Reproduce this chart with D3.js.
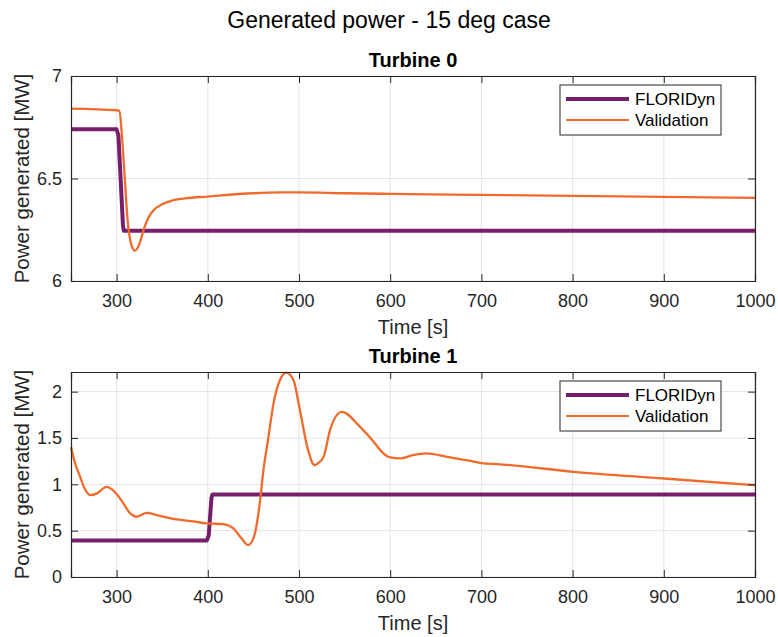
<!DOCTYPE html>
<html>
<head>
<meta charset="utf-8">
<script src="https://cdn.jsdelivr.net/npm/d3@7"></script>
<style>
  body { margin: 0; background: #fff; }
  svg { font-family: "Liberation Sans", Arial, Helvetica, sans-serif; }
</style>
</head>
<body>
<svg id="chart" width="778" height="637"></svg>
<script>
// ---- data ----
const xTicks = [300, 400, 500, 600, 700, 800, 900, 1000];
const seriesNames = ["FLORIDyn", "Validation"];

// Turbine 0
const t0FloriTime = [250, 300, 302, 307, 308, 1000];
const t0FloriPower = [6.74, 6.74, 6.71, 6.27, 6.245, 6.245];
const t0ValTime = [250, 300, 303, 306, 309, 312, 316, 320, 324, 330, 335, 340, 350, 360, 375, 400, 450, 480, 500, 550, 600, 700, 800, 900, 1000];
const t0ValPower = [6.841, 6.833, 6.83, 6.7, 6.5, 6.3, 6.18, 6.148, 6.17, 6.255, 6.31, 6.343, 6.374, 6.391, 6.403, 6.412, 6.428, 6.432, 6.432, 6.428, 6.425, 6.42, 6.415, 6.41, 6.405];
const t0YTicks = [6, 6.5, 7];

// Turbine 1
const t1FloriTime = [250, 399, 401, 404, 405, 1000];
const t1FloriPower = [0.395, 0.395, 0.45, 0.85, 0.89, 0.89];
const t1ValTime = [250, 254, 260, 265, 271, 278, 289, 296, 305, 315, 322, 333, 344, 366, 384, 399, 417, 428, 437, 444, 450, 457, 461, 466, 472, 479, 486, 494, 501, 510, 517, 520, 527, 534, 543, 547, 567, 581, 592, 600, 611, 625, 640, 662, 688, 702, 717, 801, 900, 1000];
const t1ValPower = [1.404, 1.243, 1.081, 0.955, 0.884, 0.90, 0.973, 0.937, 0.83, 0.686, 0.65, 0.693, 0.668, 0.621, 0.60, 0.578, 0.571, 0.524, 0.417, 0.345, 0.417, 0.794, 1.153, 1.476, 1.871, 2.123, 2.206, 2.123, 1.80, 1.369, 1.207, 1.22, 1.296, 1.584, 1.764, 1.782, 1.62, 1.47, 1.34, 1.29, 1.279, 1.315, 1.333, 1.296, 1.253, 1.225, 1.218, 1.135, 1.063, 0.991];
const t1YTicks = [0, 0.5, 1, 1.5, 2];

const panels = [
  { title: "Turbine 0", top: 76, yDomain: [6, 7], yTicks: t0YTicks,
    flori: d3.zip(t0FloriTime, t0FloriPower), val: d3.zip(t0ValTime, t0ValPower) },
  { title: "Turbine 1", top: 372, yDomain: [0, 2.212], yTicks: t1YTicks,
    flori: d3.zip(t1FloriTime, t1FloriPower), val: d3.zip(t1ValTime, t1ValPower) }
];

const colors = { flori: "#771E6C", val: "#F06B2B" };
const axisColor = "#262626";
const left = 71, right = 755, plotH = 205;

const svg = d3.select("#chart");

svg.append("text")
  .attr("x", 389).attr("y", 28)
  .attr("text-anchor", "middle")
  .attr("font-size", 23)
  .attr("fill", "#000")
  .text("Generated power - 15 deg case");

panels.forEach(p => {
  const x = d3.scaleLinear().domain([250, 1000]).range([left, right]);
  const y = d3.scaleLinear().domain(p.yDomain).range([p.top + plotH, p.top]);
  const g = svg.append("g");

  // grid
  g.selectAll(".gx").data(xTicks).join("line")
    .attr("x1", d => x(d)).attr("x2", d => x(d))
    .attr("y1", p.top).attr("y2", p.top + plotH)
    .attr("stroke", "#e3e3e3").attr("stroke-width", 1);
  g.selectAll(".gy").data(p.yTicks).join("line")
    .attr("x1", left).attr("x2", right)
    .attr("y1", d => y(d)).attr("y2", d => y(d))
    .attr("stroke", "#e3e3e3").attr("stroke-width", 1);

  // lines
  const stepLine = d3.line().x(d => x(d[0])).y(d => y(d[1]));
  const smoothLine = d3.line().x(d => x(d[0])).y(d => y(d[1])).curve(d3.curveMonotoneX);
  g.append("path").datum(p.flori)
    .attr("d", stepLine).attr("fill", "none")
    .attr("stroke", colors.flori).attr("stroke-width", 4)
    .attr("stroke-linejoin", "round");
  g.append("path").datum(p.val)
    .attr("d", smoothLine).attr("fill", "none")
    .attr("stroke", colors.val).attr("stroke-width", 2.3)
    .attr("stroke-linejoin", "round");

  // box + ticks on all four sides (inward)
  const bottomAx = d3.axisBottom(x).tickValues(xTicks).tickSize(-7).tickPadding(13).tickFormat(d3.format("d"));
  const topAx = d3.axisTop(x).tickValues(xTicks).tickSize(-7).tickFormat("");
  const leftAx = d3.axisLeft(y).tickValues(p.yTicks).tickSize(-7).tickPadding(9).tickFormat(d => String(d));
  const rightAx = d3.axisRight(y).tickValues(p.yTicks).tickSize(-7).tickFormat("");

  [[bottomAx, `translate(0,${p.top + plotH})`], [topAx, `translate(0,${p.top})`],
   [leftAx, `translate(${left},0)`], [rightAx, `translate(${right},0)`]].forEach(([ax, tr]) => {
    const a = g.append("g").attr("transform", tr).call(ax);
    a.select(".domain").attr("stroke", axisColor).attr("stroke-width", 1.2);
    a.selectAll(".tick line").attr("stroke", axisColor);
    a.selectAll(".tick text").attr("fill", axisColor).attr("font-size", 18)
      .attr("font-family", "Liberation Sans, Arial, sans-serif");
  });

  // labels
  g.append("text")
    .attr("x", (left + right) / 2).attr("y", p.top + plotH + 53)
    .attr("text-anchor", "middle").attr("font-size", 20).attr("fill", axisColor)
    .text("Time [s]");
  g.append("text")
    .attr("transform", `translate(29,${p.top + plotH / 2}) rotate(-90)`)
    .attr("text-anchor", "middle").attr("font-size", 20.5).attr("fill", axisColor)
    .text("Power generated [MW]");
  g.append("text")
    .attr("x", (left + right) / 2).attr("y", p.top - 9)
    .attr("text-anchor", "middle").attr("font-size", 20).attr("font-weight", "bold")
    .attr("fill", "#000")
    .text(p.title);

  // legend
  const lg = g.append("g").attr("transform", `translate(560,${p.top + 9})`);
  lg.append("rect").attr("width", 161).attr("height", 50)
    .attr("fill", "#fff").attr("stroke", axisColor).attr("stroke-width", 1);
  [["flori", 4], ["val", 2]].forEach(([k, w], i) => {
    const yy = 14 + i * 21;
    lg.append("line").attr("x1", 6).attr("x2", 69).attr("y1", yy).attr("y2", yy)
      .attr("stroke", colors[k]).attr("stroke-width", w);
    lg.append("text").attr("x", 75).attr("y", yy + 6)
      .attr("font-size", 17).attr("fill", "#000").text(seriesNames[i]);
  });
});
</script>
</body>
</html>
